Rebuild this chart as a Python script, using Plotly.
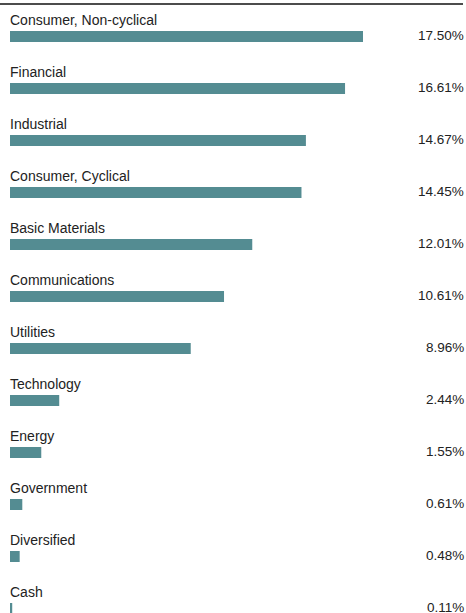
import plotly.graph_objects as go

categories = ["Consumer, Non-cyclical", "Financial", "Industrial", "Consumer, Cyclical",
              "Basic Materials", "Communications", "Utilities", "Technology", "Energy",
              "Government", "Diversified", "Cash"]
values = [17.50, 16.61, 14.67, 14.45, 12.01, 10.61, 8.96, 2.44, 1.55, 0.61, 0.48, 0.11]
value_labels = ["17.50%", "16.61%", "14.67%", "14.45%", "12.01%", "10.61%", "8.96%",
                "2.44%", "1.55%", "0.61%", "0.48%", "0.11%"]

W, H = 466, 613
BAR_COLOR = "#548c92"
TEXT_COLOR = "#222222"
FONT = "Liberation Sans, Arial, sans-serif"

px_per_pct = 353 / 17.5
row = 52.0
first_center = 36.5
ymin = -first_center / row
ymax = ymin + H / row

fig = go.Figure()
fig.add_trace(go.Bar(
    x=values, y=list(range(len(categories))), orientation="h",
    marker=dict(color=BAR_COLOR, line=dict(width=0)),
    width=11 / row, hoverinfo="skip",
))

annotations = []
for i, (c, v) in enumerate(zip(categories, value_labels)):
    annotations.append(dict(text=c, xref="paper", x=7.5 / W, xanchor="left",
                            yref="y", y=i, yanchor="middle", yshift=17, showarrow=False,
                            font=dict(size=14, color=TEXT_COLOR, family=FONT)))
    annotations.append(dict(text=v, xref="paper", x=466 / W, xanchor="right",
                            yref="y", y=i, yanchor="middle", yshift=1, showarrow=False,
                            font=dict(size=13.5, color=TEXT_COLOR, family=FONT)))

fig.update_layout(
    width=W, height=H, margin=dict(l=0, r=0, t=0, b=0),
    paper_bgcolor="white", plot_bgcolor="white", showlegend=False,
    xaxis=dict(domain=[10 / W, 1], range=[0, (W - 10) / px_per_pct], visible=False, fixedrange=True),
    yaxis=dict(range=[ymax, ymin], visible=False, fixedrange=True),
    annotations=annotations,
    shapes=[dict(type="line", xref="paper", yref="paper", x0=0, x1=463 / W,
                 y0=1 - 4 / H, y1=1 - 4 / H, line=dict(color="#111111", width=1.5))],
)

fig.write_html("out.html", config={"displayModeBar": False},
               post_script="document.body.style.margin='0';document.body.style.overflow='hidden';")
